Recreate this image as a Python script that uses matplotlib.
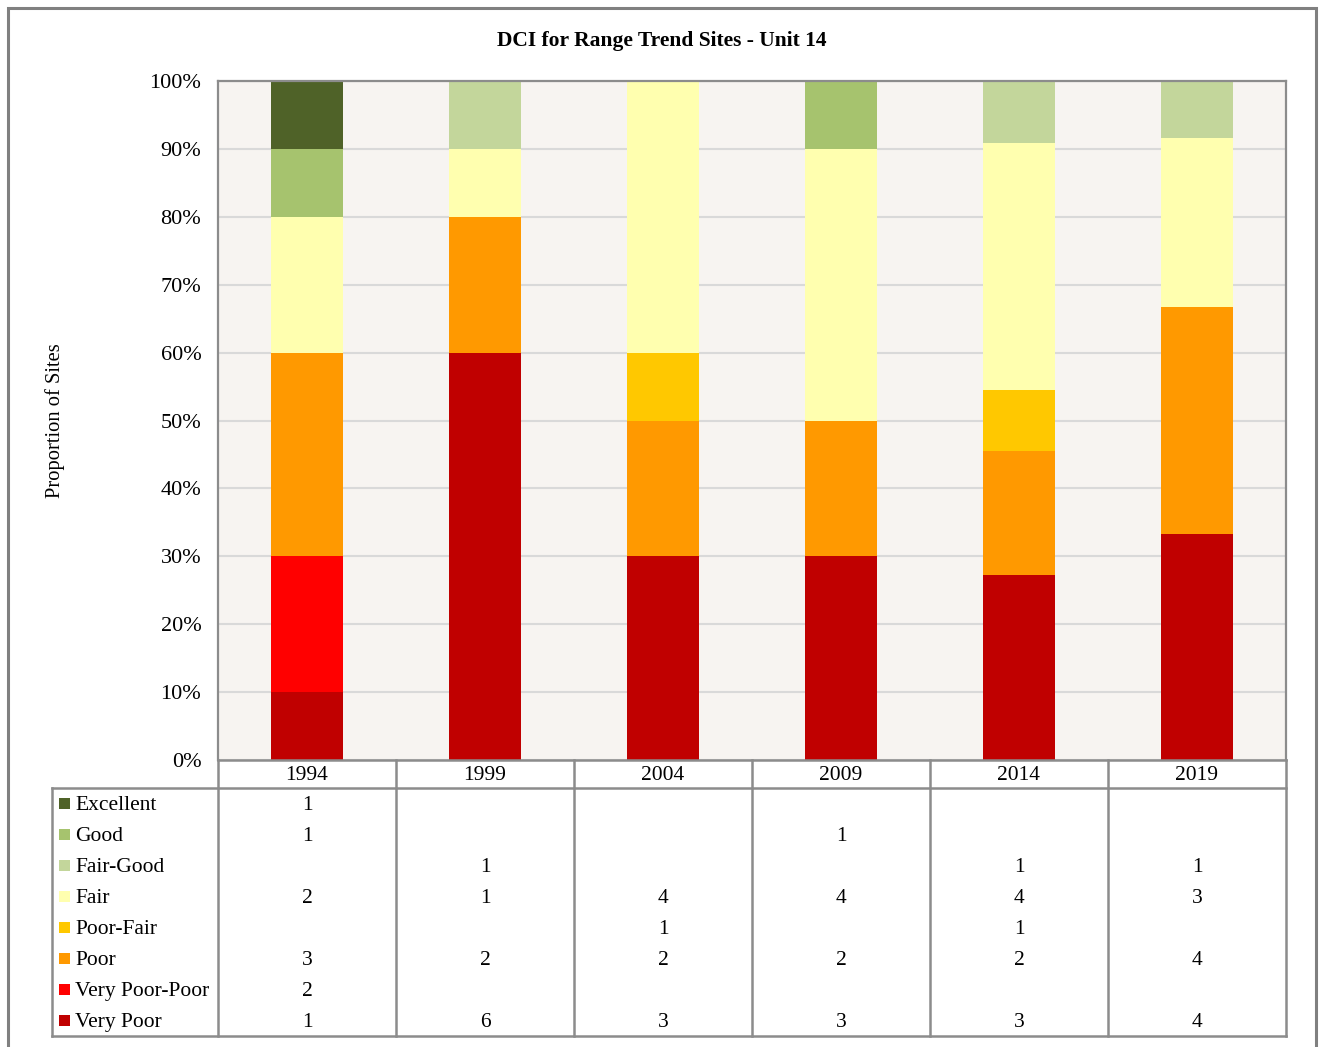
import numpy as np
import matplotlib.pyplot as plt
from matplotlib.patches import Rectangle
from matplotlib.lines import Line2D

plt.rcParams['font.family'] = ['Liberation Serif', 'DejaVu Serif']

# Data: number of sites per DCI class in each survey year
years = ['1994', '1999', '2004', '2009', '2014', '2019']
classes = ['Excellent', 'Good', 'Fair-Good', 'Fair', 'Poor-Fair', 'Poor',
           'Very Poor-Poor', 'Very Poor']
excellent = [1, 0, 0, 0, 0, 0]
good = [1, 0, 0, 1, 0, 0]
fair_good = [0, 1, 0, 0, 1, 1]
fair = [2, 1, 4, 4, 4, 3]
poor_fair = [0, 0, 1, 0, 1, 0]
poor = [3, 2, 2, 2, 2, 4]
very_poor_poor = [2, 0, 0, 0, 0, 0]
very_poor = [1, 6, 3, 3, 3, 4]
class_colors = ['#4F6228', '#A6C36E', '#C3D69B', '#FFFFAF', '#FFC800',
                '#FF9900', '#FF0000', '#C00000']

counts = np.array([excellent, good, fair_good, fair, poor_fair, poor,
                   very_poor_poor, very_poor], dtype=float)
totals = counts.sum(axis=0)
props = counts / totals

W, H = 1323, 1047
fig = plt.figure(figsize=(W / 100, H / 100), dpi=100)
grid_col = '#D9D9D9'
line_col = '#8C8C8C'
fs = 15.5

# outer frame
fig.patches.append(Rectangle((8 / W, -0.02), (1316 - 8) / W, 1.02 - 8 / H,
                             transform=fig.transFigure, fill=False,
                             edgecolor='#808080', linewidth=2.2))

# main plot
ax = fig.add_axes([218 / W, (H - 760) / H, (1286 - 218) / W, (760 - 81) / H])
ax.set_facecolor('#F7F4F1')
x = np.arange(len(years))
bottom = np.zeros(len(years))
# stack from the bottom (Very Poor) upward
for i in range(len(classes) - 1, -1, -1):
    ax.bar(x, props[i], width=0.405, bottom=bottom, color=class_colors[i],
           linewidth=0, zorder=2)
    bottom += props[i]
ax.set_xlim(-0.5, len(years) - 0.5)
ax.set_ylim(0, 1)
ax.set_yticks(np.arange(0, 1.01, 0.1))
ax.set_yticklabels([f'{int(round(v * 100))}%' for v in np.arange(0, 1.01, 0.1)],
                   fontsize=16)
ax.set_xticks([])
ax.tick_params(axis='y', length=0, pad=12)
ax.yaxis.grid(True, color=grid_col, linewidth=1.5, zorder=0)
ax.set_axisbelow(True)
for s in ['left', 'top', 'right']:
    ax.spines[s].set_color(line_col)
    ax.spines[s].set_linewidth(1.6)
ax.spines['bottom'].set_visible(False)
ax.set_ylabel('Proportion of Sites', fontsize=14.8)
ax.yaxis.set_label_coords(-0.143, 0.5)

fig.text(0.5, 1 - 41 / H, 'DCI for Range Trend Sites - Unit 14',
         ha='center', va='center', fontsize=fs, fontweight='bold')

# data table below the plot (pixel coordinates)
tax = fig.add_axes([52 / W, (H - 1037) / H, (1286 - 52) / W, (1037 - 760) / H])
tax.set_xlim(52, 1286)
tax.set_ylim(1037, 760)
tax.axis('off')
col_left = 218
col_w = (1286 - 218) / len(years)
row_top = 788
row_h = (1036 - 788) / len(classes)

kw = dict(color=line_col, linewidth=1.8, clip_on=False)
tax.add_line(Line2D([218, 1286], [760, 760], **kw))
tax.add_line(Line2D([52, 1286], [788, 788], **kw))
tax.add_line(Line2D([52, 1286], [1036, 1036], **kw))
tax.add_line(Line2D([52, 52], [788, 1036], **kw))
for j in range(len(years) + 1):
    xx = col_left + j * col_w
    tax.add_line(Line2D([xx, xx], [760, 1036], **kw))

for j, yr in enumerate(years):
    tax.text(col_left + (j + 0.5) * col_w, 776, yr, ha='center', va='center',
             fontsize=fs)

for i, name in enumerate(classes):
    yc = row_top + (i + 0.5) * row_h
    tax.add_patch(Rectangle((58.5, yc - 5.5), 11, 11, color=class_colors[i],
                            linewidth=0))
    tax.text(75, yc + 2, name, ha='left', va='center', fontsize=fs)
    for j in range(len(years)):
        if counts[i, j] > 0:
            tax.text(col_left + (j + 0.5) * col_w, yc + 2, str(int(counts[i, j])),
                     ha='center', va='center', fontsize=fs)

fig.savefig('out.png', dpi=100)
